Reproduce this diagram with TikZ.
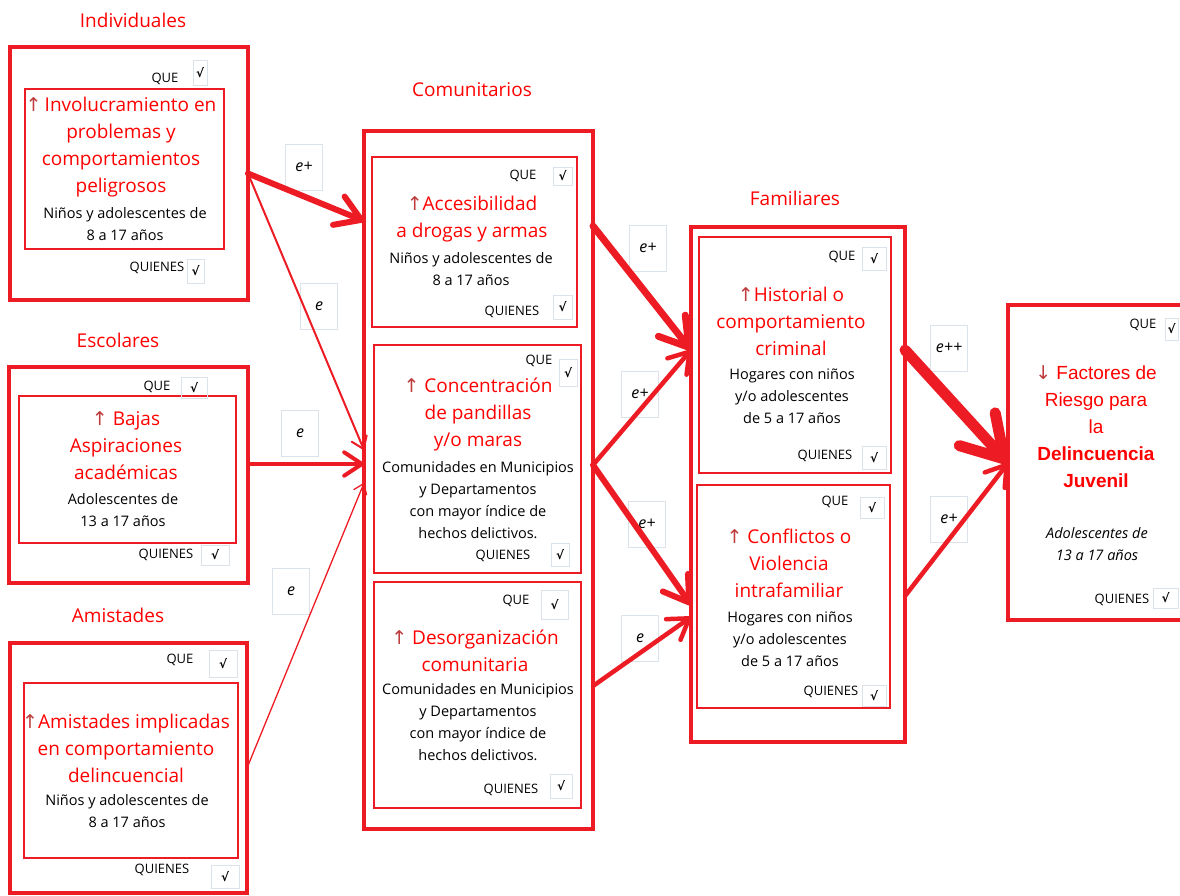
\documentclass[tikz,border=0pt]{standalone}
\usepackage{fontspec}
\setmainfont{Open Sans}
\newfontfamily\arialfont{Liberation Sans}
\newfontfamily\dvsym{DejaVu Sans}
\usetikzlibrary{arrows.meta}
\definecolor{boxred}{RGB}{237,28,36}
\definecolor{textred}{RGB}{255,0,0}
\definecolor{upred}{RGB}{190,60,60}
\definecolor{tickgray}{RGB}{220,226,234}
\newcommand{\hiarrow}{{\dvsym\color{upred}↑}}
\newcommand{\loarrow}{{\dvsym\color{upred}↓}}

\begin{document}
\begin{tikzpicture}[x=1pt, y=-1pt,
  every node/.style={inner sep=0pt, outer sep=0pt},
  outerbox/.style={draw=boxred, line width=4pt},
  innerbox/.style={draw=boxred, line width=1.3pt},
  cattitle/.style={text=textred, font=\fontsize{19}{23}\selectfont},
  heading/.style={text=textred, align=center, font=\fontsize{19}{27}\selectfont},
  who/.style={align=center, font=\fontsize{14.5}{22}\selectfont},
  tag/.style={font=\fontsize{13}{15}\selectfont},
  tick/.style={draw=tickgray, line width=1pt, minimum width=22, minimum height=23, font=\dvsym\bfseries\fontsize{12}{14}\selectfont},
  elabel/.style={draw=tickgray, fill=white, line width=1pt, minimum width=37, minimum height=46, font=\itshape\fontsize{16}{18}\selectfont},
  arrow/.style={draw=boxred, line width=#1, line cap=round, -{Straight Barb[round, length=5pt 3.2, width=9pt 3.6]}}
]
  \useasboundingbox (0,0) rectangle (1180,895);

  % group titles
  \node[cattitle] (indivT) at (133,20) {Individuales};
  \node[cattitle] (escoT) at (118,340) {Escolares};
  \node[cattitle] (amisT) at (118,615) {Amistades};
  \node[cattitle] (comuT) at (472,90) {Comunitarios};
  \node[cattitle] (famT) at (795,198) {Familiares};

  % outer frames
  \node[outerbox, minimum width=238, minimum height=253] (indiv) at (129,173.5) {};
  \node[outerbox, minimum width=239, minimum height=216] (esco) at (128.5,475) {};
  \node[outerbox, minimum width=237, minimum height=250] (amis) at (128.5,768) {};
  \node[outerbox, minimum width=229, minimum height=698] (comu) at (478.5,480) {};
  \node[outerbox, minimum width=214, minimum height=515] (fam) at (798,484.5) {};
  \node[outerbox, minimum width=176, minimum height=315] (fin) at (1096,462.5) {};

  % inner frames
  \node[innerbox, minimum width=199, minimum height=160] (indivIn) at (124.5,169) {};
  \node[innerbox, minimum width=217, minimum height=147] (escoIn) at (127.5,469.5) {};
  \node[innerbox, minimum width=214, minimum height=175] (amisIn) at (131,770.5) {};
  \node[innerbox, minimum width=205, minimum height=170] (acc) at (474.5,242) {};
  \node[innerbox, minimum width=207, minimum height=228] (conc) at (477.5,459) {};
  \node[innerbox, minimum width=207, minimum height=226] (deso) at (477.5,695) {};
  \node[innerbox, minimum width=192, minimum height=236] (hist) at (795,355) {};
  \node[innerbox, minimum width=193, minimum height=223] (conf) at (793.5,596.5) {};

  % texts
  \node[heading] (indivH) at (121,147) {\hiarrow\,Involucramiento en\\ problemas y\\ comportamientos\\ peligrosos};
  \node[who] (indivW) at (125,224) {Niños y adolescentes de\\ 8 a 17 años};
  \node[heading] (escoH) at (126,446) {\hiarrow\ Bajas\\ Aspiraciones\\ académicas};
  \node[who] (escoW) at (123,510.5) {Adolescentes de\\ 13 a 17 años};
  \node[heading] (amisH) at (126,748) {\hiarrow Amistades implicadas\\ en comportamiento\\ delincuencial};
  \node[who] (amisW) at (127,811.5) {Niños y adolescentes de\\ 8 a 17 años};
  \node[heading] (accH) at (472,219.5) {\hiarrow Accesibilidad\\ a drogas y armas};
  \node[who] (accW) at (471,269.5) {Niños y adolescentes de\\ 8 a 17 años};
  \node[heading] (concH) at (478,414.5) {\hiarrow\ Concentración\\ de pandillas\\ y/o maras};
  \node[who] (concW) at (478,500) {Comunidades en Municipios\\ y Departamentos\\ con mayor índice de\\ hechos delictivos.};
  \node[heading] (desoH) at (475,650.5) {\hiarrow\ Desorganización\\ comunitaria};
  \node[who] (desoW) at (478,722) {Comunidades en Municipios\\ y Departamentos\\ con mayor índice de\\ hechos delictivos.};
  \node[heading] (histH) at (791,321) {\hiarrow Historial o\\ comportamiento\\ criminal};
  \node[who] (histW) at (792,396) {Hogares con niños\\ y/o adolescentes\\ de 5 a 17 años};
  \node[heading] (confH) at (789,563) {\hiarrow\ Conflictos o\\ Violencia\\ intrafamiliar};
  \node[who] (confW) at (790,639) {Hogares con niños\\ y/o adolescentes\\ de 5 a 17 años};
  \node[heading, font=\arialfont\fontsize{19}{27}\selectfont] (finH) at (1096,426.5) {\loarrow\ Factores de\\ Riesgo para\\ la\\ \textbf{Delincuencia}\\ \textbf{Juvenil}};
  \node[who, font=\itshape\fontsize{14.5}{22}\selectfont] (finW) at (1097,544) {Adolescentes de\\ 13 a 17 años};

  % QUE / QUIENES marks
  \node[tag] (indivQ) at (165,79) {QUE};
  \node[tick, minimum width=14, minimum height=25] (indivQk) at (200,72.5) {√};
  \node[tag] (indivW2) at (157,268) {QUIENES};
  \node[tick, minimum width=17, minimum height=24] (indivWk) at (195.5,271) {√};
  \node[tag] (escoQ) at (157,387) {QUE};
  \node[tick, minimum width=26, minimum height=21] (escoQk) at (194,387.5) {√};
  \node[tag] (escoW2) at (166,555) {QUIENES};
  \node[tick, minimum width=28, minimum height=20] (escoWk) at (215,555) {√};
  \node[tag] (amisQ) at (180,660) {QUE};
  \node[tick, minimum width=28, minimum height=27] (amisQk) at (223,663.5) {√};
  \node[tag] (amisW2) at (162,870) {QUIENES};
  \node[tick, minimum width=28, minimum height=23] (amisWk) at (225,876.5) {√};
  \node[tag] (accQ) at (523,176) {QUE};
  \node[tick, minimum width=19, minimum height=18] (accQk) at (562.5,176) {√};
  \node[tag] (accW2) at (512,312) {QUIENES};
  \node[tick, minimum width=19, minimum height=24] (accWk) at (562.5,307) {√};
  \node[tag] (concQ) at (539,361) {QUE};
  \node[tick, minimum width=18, minimum height=27] (concQk) at (568,372.5) {√};
  \node[tag] (concW2) at (503,556) {QUIENES};
  \node[tick, minimum width=18, minimum height=23] (concWk) at (560,554.5) {√};
  \node[tag] (desoQ) at (516,601) {QUE};
  \node[tick, minimum width=27, minimum height=29] (desoQk) at (554.5,604.5) {√};
  \node[tag] (desoW2) at (511,790) {QUIENES};
  \node[tick, minimum width=22, minimum height=24] (desoWk) at (561,786) {√};
  \node[tag] (histQ) at (842,257) {QUE};
  \node[tick, minimum width=24, minimum height=23] (histQk) at (874,258.5) {√};
  \node[tag] (histW2) at (825,456) {QUIENES};
  \node[tick, minimum width=24, minimum height=23] (histWk) at (874,457.5) {√};
  \node[tag] (confQ) at (835,502) {QUE};
  \node[tick, minimum width=24, minimum height=21] (confQk) at (872,507.5) {√};
  \node[tag] (confW2) at (831,692) {QUIENES};
  \node[tick, minimum width=24, minimum height=21] (confWk) at (874,695.5) {√};
  \node[tag] (finQ) at (1143,325) {QUE};
  \node[tick, minimum width=13, minimum height=22] (finQk) at (1171.5,329) {√};
  \node[tag] (finW2) at (1122,600) {QUIENES};
  \node[tick, minimum width=25, minimum height=20] (finWk) at (1165.5,598) {√};

  % effect labels
  \node[elabel] (l1) at (304,167) {e+};
  \node[elabel] (l2) at (319,306) {e};
  \node[elabel] (l3) at (300,433) {e};
  \node[elabel] (l4) at (291,591) {e};
  \node[elabel] (l5) at (648,248) {e+};
  \node[elabel] (l6) at (640,394) {e+};
  \node[elabel] (l7) at (647,524) {e+};
  \node[elabel] (l8) at (640,638) {e};
  \node[elabel] (l9) at (949,348) {e++};
  \node[elabel] (l10) at (949,519) {e+};

  % arrow ends on the frames
  \coordinate (inAcc) at (comu.west |- 0,221);
  \coordinate (inConcA) at (comu.west |- 0,450);
  \coordinate (inConcB) at (comu.west |- 0,464);
  \coordinate (inConcC) at (comu.west |- 0,483);
  \coordinate (outAcc) at (comu.east |- 0,226);
  \coordinate (outConc) at (comu.east |- 0,465);
  \coordinate (outDeso) at (comu.east |- 0,686);
  \coordinate (inHist) at (fam.west |- 0,350);
  \coordinate (inConfA) at (fam.west |- 0,605);
  \coordinate (inConfB) at (fam.west |- 0,617);
  \coordinate (outFamA) at (fam.east |- 0,350);
  \coordinate (outFamB) at (fam.east |- 0,596);
  \coordinate (inFin) at (fin.west |- 0,463);

  \draw[arrow=6pt] (indiv.east) -- (inAcc);
  \draw[arrow=2pt] (indiv.east) -- (inConcA);
  \draw[arrow=4pt] (esco.east |- inConcB) -- (inConcB);
  \draw[arrow=1.3pt] (amis.east) -- (inConcC);
  \draw[arrow=7pt] (outAcc) -- (inHist);
  \draw[arrow=4.5pt] (outConc) -- (inHist);
  \draw[arrow=6pt] (outConc) -- (inConfA);
  \draw[arrow=4.5pt] (outDeso) -- (inConfB);
  \draw[arrow=11pt] (outFamA) -- (inFin);
  \draw[arrow=4.5pt] (outFamB) -- (inFin);
\end{tikzpicture}
\end{document}
